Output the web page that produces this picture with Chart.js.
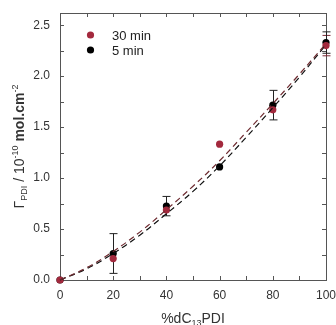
<!DOCTYPE html>
<html>
<head>
<meta charset="utf-8">
<script src="https://cdn.jsdelivr.net/npm/chart.js@4"></script>
<style>
  html, body { margin: 0; padding: 0; background: #fff; }
  #wrap { width: 336px; height: 325px; }
</style>
</head>
<body>
<div id="wrap"><canvas id="graph" width="336" height="325"></canvas></div>
<script>
// measured points (x = %dC13PDI)
const xValues = [0, 20, 40, 60, 80, 100];
const min30 = [0, 0.21, 0.686, 1.333, 1.67, 2.30];
const min5 = [0, 0.26, 0.725, 1.11, 1.716, 2.33];
const err30 = [0, 0, 0, 0, 0, 0.10];
const err5 = [0, 0.195, 0.095, 0, 0.145, 0.105];

// dashed fit curves
const fitX = [0, 10, 20, 30, 40, 50, 60, 70, 80, 90, 100];
const fit30 = [0, 0.12, 0.28, 0.47, 0.69, 0.92, 1.17, 1.45, 1.73, 2.02, 2.32];
const fit5 = [0, 0.11, 0.26, 0.44, 0.65, 0.87, 1.12, 1.40, 1.69, 1.99, 2.31];

const xTicks = [0, 20, 40, 60, 80, 100];
const yTicks = [0, 0.5, 1.0, 1.5, 2.0, 2.5];

const seriesLabels = ['30 min', '5 min'];
const RED = '#a3293d';
const FONT = "'Liberation Sans', Arial, sans-serif";

const toPts = (xs, ys) => xs.map((x, i) => ({ x: x, y: ys[i] }));

// frame + inward ticks on all four sides
const framePlugin = {
  id: 'frame',
  beforeDatasetsDraw(chart) {
    const { ctx, chartArea: a, scales: { x, y } } = chart;
    ctx.save();
    ctx.strokeStyle = '#555';
    ctx.lineWidth = 1;
    ctx.strokeRect(a.left + 0.5, a.top + 0.5, a.right - a.left, a.bottom - a.top);
    ctx.beginPath();
    for (let v = 10; v < 100; v += 10) {
      const px = Math.round(x.getPixelForValue(v)) + 0.5;
      ctx.moveTo(px, a.bottom); ctx.lineTo(px, a.bottom - 4);
      ctx.moveTo(px, a.top); ctx.lineTo(px, a.top + 4);
    }
    for (let v = 0.25; v < 2.6; v += 0.25) {
      const py = Math.round(y.getPixelForValue(v)) + 0.5;
      ctx.moveTo(a.left, py); ctx.lineTo(a.left + 4, py);
      ctx.moveTo(a.right, py); ctx.lineTo(a.right - 4, py);
    }
    ctx.stroke();

    // error bars
    const drawErr = (ys, errs, color) => {
      ctx.strokeStyle = color;
      ctx.beginPath();
      xValues.forEach((xv, i) => {
        if (!errs[i]) return;
        const px = Math.round(x.getPixelForValue(xv)) + 0.5;
        const top = y.getPixelForValue(ys[i] + errs[i]);
        const bot = y.getPixelForValue(ys[i] - errs[i]);
        ctx.moveTo(px, top); ctx.lineTo(px, bot);
        ctx.moveTo(px - 4, top); ctx.lineTo(px + 4, top);
        ctx.moveTo(px - 4, bot); ctx.lineTo(px + 4, bot);
      });
      ctx.stroke();
    };
    drawErr(min30, err30, '#7a2a35');
    drawErr(min5, err5, '#222');
    ctx.restore();
  },
  afterDraw(chart) {
    const { ctx, chartArea: a } = chart;
    ctx.save();
    ctx.fillStyle = '#333';
    ctx.textBaseline = 'alphabetic';

    // x title
    const parts = [['%dC', 14, 0], ['13', 9, 3], ['PDI', 14, 0]];
    let w = 0;
    parts.forEach(p => { ctx.font = p[1] + 'px ' + FONT; w += ctx.measureText(p[0]).width; });
    let cx = (a.left + a.right) / 2 - w / 2;
    parts.forEach(p => {
      ctx.font = p[1] + 'px ' + FONT;
      ctx.fillText(p[0], cx, 323 + p[2]);
      cx += ctx.measureText(p[0]).width;
    });

    // y title (rotated)
    const yParts = [['\u0393', 14, 0, ''], ['PDI', 9, 3, ''], [' / 10', 14, 0, ''], ['-10', 9, -6, ''],
      [' mol.cm', 14, 0, 'bold '], ['-2', 9, -6, '']];
    let yw = 0;
    yParts.forEach(p => { ctx.font = p[3] + p[1] + 'px ' + FONT; yw += ctx.measureText(p[0]).width; });
    ctx.translate(24, (a.top + a.bottom) / 2 + yw / 2);
    ctx.rotate(-Math.PI / 2);
    let tx = 0;
    yParts.forEach(p => {
      ctx.font = p[3] + p[1] + 'px ' + FONT;
      ctx.fillText(p[0], tx, p[2]);
      tx += ctx.measureText(p[0]).width;
    });
    ctx.restore();

    // legend
    ctx.save();
    const leg = [[RED, 35], ['#000', 50]];
    ctx.font = '13px ' + FONT;
    ctx.textBaseline = 'middle';
    leg.forEach((l, i) => {
      ctx.fillStyle = l[0];
      ctx.beginPath();
      ctx.arc(90.5, l[1], 3.6, 0, Math.PI * 2);
      ctx.fill();
      ctx.fillStyle = '#222';
      ctx.fillText(seriesLabels[i], 112, l[1] + 1);
    });
    ctx.restore();
  }
};

const ctx = document.getElementById('graph').getContext('2d');
new Chart(ctx, {
  type: 'scatter',
  data: {
    datasets: [
      {
        label: 'fit 30 min',
        data: toPts(fitX, fit30),
        showLine: true,
        borderColor: '#6e2b30',
        borderWidth: 1.2,
        borderDash: [6, 4],
        pointRadius: 0,
        tension: 0.4,
        clip: false
      },
      {
        label: 'fit 5 min',
        data: toPts(fitX, fit5),
        showLine: true,
        borderColor: '#111',
        borderWidth: 1.2,
        borderDash: [6, 4],
        pointRadius: 0,
        tension: 0.4,
        clip: false
      },
      {
        label: seriesLabels[0],
        data: toPts(xValues, min30),
        backgroundColor: RED,
        borderColor: RED,
        pointRadius: 3.6,
        borderWidth: 0,
        clip: false
      },
      {
        label: seriesLabels[1],
        data: toPts(xValues, min5),
        backgroundColor: '#000',
        borderColor: '#000',
        pointRadius: 3.6,
        borderWidth: 0,
        clip: false
      }
    ]
  },
  options: {
    responsive: false,
    animation: false,
    layout: { padding: { top: 13, right: 10, left: 0, bottom: 0 } },
    plugins: { legend: { display: false }, tooltip: { enabled: false } },
    scales: {
      x: {
        type: 'linear',
        min: 0,
        max: 100,
        afterBuildTicks: s => { s.ticks = xTicks.map(v => ({ value: v })); },
        afterFit: s => { s.height = 45; s.paddingLeft = 0; s.paddingRight = 0; },
        grid: { display: false, drawTicks: false },
        border: { display: false },
        ticks: { color: '#333', font: { family: FONT, size: 12 }, padding: 8 }
      },
      y: {
        min: 0,
        max: 2.62,
        afterBuildTicks: s => { s.ticks = yTicks.map(v => ({ value: v })); },
        afterFit: s => { s.width = 60; s.paddingTop = 0; s.paddingBottom = 0; },
        grid: { display: false, drawTicks: false },
        border: { display: false },
        ticks: {
          color: '#333',
          font: { family: FONT, size: 12 },
          padding: 10,
          callback: v => v.toFixed(1)
        }
      }
    }
  },
  plugins: [framePlugin]
});
</script>
</body>
</html>
